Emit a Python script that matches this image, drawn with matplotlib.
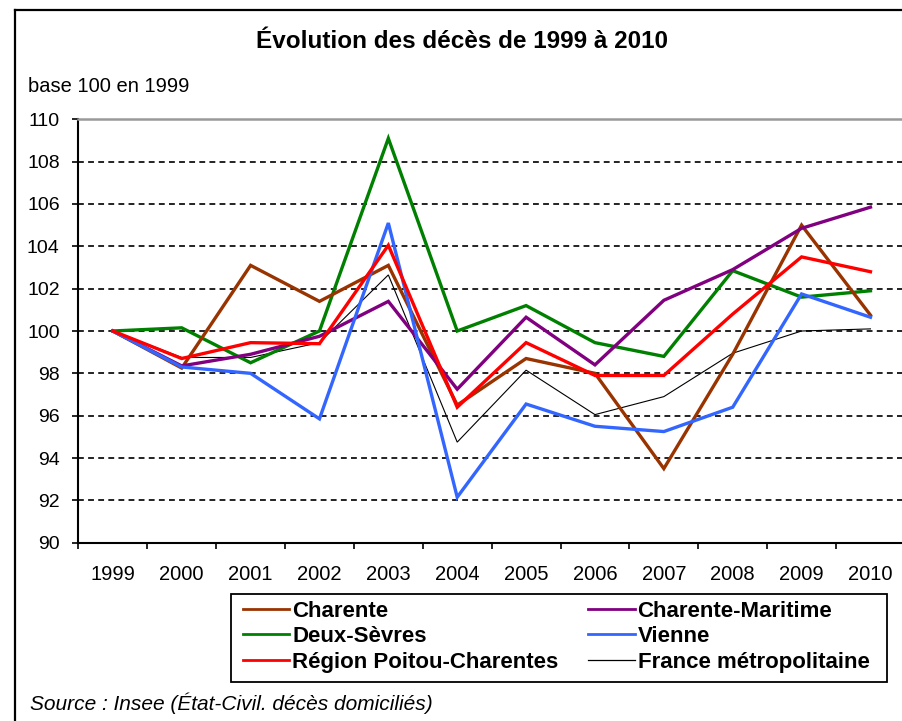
import matplotlib
matplotlib.use("Agg")
import matplotlib.pyplot as plt
from matplotlib import font_manager
from matplotlib.lines import Line2D
from matplotlib.patches import Rectangle

years = ["1999", "2000", "2001", "2002", "2003", "2004", "2005", "2006", "2007", "2008", "2009", "2010"]
charente = [100, 98.25, 103.1, 101.4, 103.1, 96.5, 98.7, 98.0, 93.5, 98.9, 105.0, 100.75]
charente_maritime = [100, 98.35, 98.9, 99.75, 101.4, 97.25, 100.65, 98.4, 101.45, 102.9, 104.85, 105.85]
deux_sevres = [100, 100.15, 98.5, 100.0, 109.1, 100.0, 101.2, 99.45, 98.8, 102.85, 101.6, 101.9]
vienne = [100, 98.3, 98.0, 95.85, 105.1, 92.15, 96.55, 95.5, 95.25, 96.4, 101.75, 100.65]
region = [100, 98.7, 99.45, 99.4, 104.05, 96.4, 99.45, 97.9, 97.9, 100.8, 103.5, 102.8]
france = [100, 98.75, 98.75, 99.45, 102.65, 94.75, 98.15, 96.05, 96.9, 98.95, 100.0, 100.1]

names = ["Charente", "Charente-Maritime", "Deux-Sèvres", "Vienne",
         "Région Poitou-Charentes", "France métropolitaine"]
title = "Évolution des décès de 1999 à 2010"
ylabel = "base 100 en 1999"
source = "Source : Insee (État-Civil. décès domiciliés)"

available = {f.name for f in font_manager.fontManager.ttflist}
base_font = "Liberation Sans" if "Liberation Sans" in available else "DejaVu Sans"
narrow_font = "Liberation Sans Narrow" if "Liberation Sans Narrow" in available else base_font
plt.rcParams["font.family"] = [base_font, "DejaVu Sans"]

W, H = 902, 721
fig = plt.figure(figsize=(W / 100, H / 100), dpi=100)
fig.patch.set_facecolor("white")

def fx(px):
    return px / W

def fy(py):
    return 1 - py / H

# outer frame (cropped on the right and bottom): left and top edges only
fig.add_artist(Line2D([fx(15), fx(15)], [fy(10), fy(730)], transform=fig.transFigure,
                      color="black", linewidth=1.6))
fig.add_artist(Line2D([fx(15), fx(910)], [fy(10), fy(10)], transform=fig.transFigure,
                      color="black", linewidth=1.6))

ax = fig.add_axes([fx(78.4), fy(542.7), (904.9 - 78.4) / W, (542.7 - 119.3) / H])
ax.set_facecolor("white")
x = list(range(len(years)))

series = [
    (charente, "#993300", 2.4),
    (charente_maritime, "#800080", 2.4),
    (deux_sevres, "#008000", 2.4),
    (vienne, "#3366FF", 2.4),
    (region, "#FF0000", 2.4),
    (france, "#000000", 0.8),
]
for i in [5, 2, 0, 1, 3, 4]:
    vals, col, lw = series[i]
    ax.plot(x, vals, color=col, linewidth=lw, solid_joinstyle="miter", zorder=3)

ax.set_xlim(-0.5, 11.5)
ax.set_ylim(90, 110)
ax.set_yticks(range(90, 111, 2))
ax.yaxis.grid(True, color="#222222", linestyle=(0, (3, 2.2)), linewidth=1.4)
ax.set_axisbelow(True)
ax.tick_params(axis="y", direction="out", length=4.5, width=1.2, pad=9, labelsize=14)
ax.set_xticks([k - 0.5 for k in range(13)])
ax.set_xticklabels([])
ax.set_xticks(x, minor=True)
ax.set_xticklabels(years, minor=True, fontsize=14.5)
ax.tick_params(axis="x", which="major", direction="out", length=4.5, width=1.2)
ax.tick_params(axis="x", which="minor", length=0, pad=16)

for s in ["left", "bottom"]:
    ax.spines[s].set_color("black")
    ax.spines[s].set_linewidth(1.5)
ax.spines["top"].set_color("#999999")
ax.spines["top"].set_linewidth(1.8)
ax.spines["right"].set_visible(False)
gl = ax.yaxis.get_gridlines()
gl[0].set_visible(False)
gl[-1].set_visible(False)

fig.text(fx(462), fy(42), title, ha="center", va="center",
         fontsize=17.5, fontweight="bold", family=[narrow_font, "DejaVu Sans"])
fig.text(fx(28), fy(87), ylabel, ha="left", va="center", fontsize=14.5)
fig.text(fx(30), fy(703), source, ha="left", va="center", fontsize=15,
         style="italic")

# legend box
fig.patches.append(Rectangle((fx(231), fy(682)), (887 - 231) / W, (682 - 594) / H,
                             transform=fig.transFigure, fill=False,
                             edgecolor="black", linewidth=1.3, zorder=5))

leg_idx = [0, 2, 4, 1, 3, 5]
handles = [Line2D([], [], color=series[i][1], linewidth=(2.0 if i != 5 else 0.9)) for i in leg_idx]
labels = [names[i] for i in leg_idx]
leg = fig.legend(handles, labels, ncol=2, loc="upper left",
                 bbox_to_anchor=(fx(236), fy(594)),
                 frameon=False,
                 handlelength=2.1, handletextpad=0.12, labelspacing=0.2,
                 borderpad=0.3, borderaxespad=0, columnspacing=1.35,
                 prop={"family": [narrow_font, "DejaVu Sans"], "weight": "bold", "size": 16})

fig.savefig("out.png", dpi=100, facecolor="white")
